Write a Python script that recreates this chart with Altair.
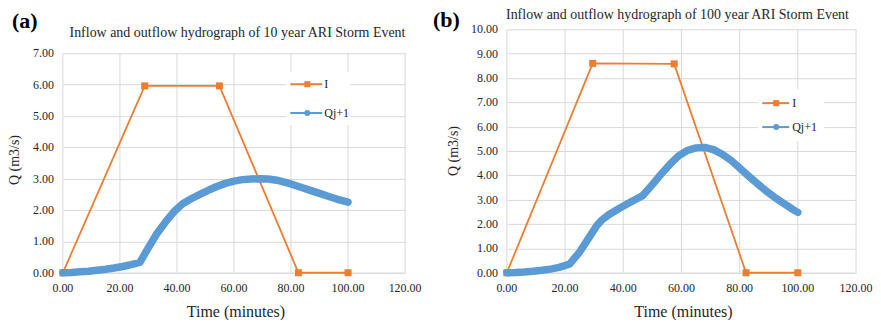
import altair as alt
import pandas as pd

# ---------------- data ----------------
x_ticks = [0, 20, 40, 60, 80, 100, 120]
x_tick_labels = ["0.00", "20.00", "40.00", "60.00", "80.00", "100.00", "120.00"]
y_ticks_a = [0, 1, 2, 3, 4, 5, 6, 7]
y_tick_labels_a = ["0.00", "1.00", "2.00", "3.00", "4.00", "5.00", "6.00", "7.00"]
y_ticks_b = [0, 1, 2, 3, 4, 5, 6, 7, 8, 9, 10]
y_tick_labels_b = ["0.00", "1.00", "2.00", "3.00", "4.00", "5.00", "6.00", "7.00", "8.00",
                   "9.00", "10.00"]

# (a) 10 year ARI
time_in_a = [0, 28.7, 54.9, 82.6, 100]
q_in_a = [0, 5.96, 5.96, 0, 0]
time_out_a = [0, 3, 6, 9, 12, 15, 18, 21, 24, 27, 30, 33, 36, 39, 42, 45, 48, 51, 54, 57,
              60, 63, 66, 69, 72, 75, 78, 81, 84, 87, 90, 93, 96, 100]
q_out_a = [0, 0.01, 0.03, 0.05, 0.08, 0.11, 0.15, 0.20, 0.26, 0.33, 0.80, 1.25, 1.62, 1.95, 2.20,
           2.36, 2.50, 2.63, 2.75, 2.85, 2.92, 2.97, 2.99, 3.00, 2.99, 2.95, 2.88, 2.80, 2.71,
           2.62, 2.53, 2.44, 2.35, 2.25]

# (b) 100 year ARI
time_in_b = [0, 29.5, 57.5, 82.2, 100]
q_in_b = [0, 8.60, 8.58, 0, 0]
time_out_b = [0, 3, 6, 9, 12, 15, 18, 21.6, 25, 28, 31, 32.5, 35, 38, 41, 44, 46.7, 50, 53, 56,
              59, 62, 65, 68, 71, 74, 77, 80, 83, 86, 89, 92, 95, 98, 100]
q_out_b = [0, 0.01, 0.03, 0.06, 0.10, 0.15, 0.22, 0.36, 0.85, 1.40, 1.95, 2.15, 2.38, 2.60, 2.80,
           3.00, 3.17, 3.62, 4.05, 4.45, 4.80, 5.02, 5.13, 5.15, 5.06, 4.87, 4.62, 4.30, 3.98,
           3.67, 3.37, 3.10, 2.86, 2.62, 2.48]

series_names = ["I", "Qj+1"]

FONT = "Liberation Serif"
ORANGE = "#ED7D31"
BLUE = "#5B9BD5"
GRID = "#d9d9d9"
TXT = "#262626"


def panel(t_in, q_in, t_out, q_out, ymax, yt, ytl, w, h, top, title, title_xy, tag, tag_xy,
          ytitle_xy, leg):
    df_in = pd.DataFrame({"t": t_in, "q": q_in})
    df_out = pd.DataFrame({"t": t_out, "q": q_out})
    df_grid = pd.DataFrame({"t": x_ticks, "q0": [0] * len(x_ticks),
                            "q1": [ymax] * len(x_ticks)})
    df_xl = pd.DataFrame({"t": x_ticks, "lab": x_tick_labels})
    df_yl = pd.DataFrame({"q": yt, "lab": ytl})
    one = pd.DataFrame({"k": [0]})
    xs = alt.Scale(domain=[0, 120], nice=False, zero=False)
    ys = alt.Scale(domain=[0, ymax], nice=False, range=[h, top])
    xaxis = alt.Axis(values=x_ticks, title=None, grid=False, labels=False, ticks=False,
                     domain=True, domainColor=GRID)
    yaxis = alt.Axis(values=yt, title=None, labels=False, ticks=False, domain=False,
                     grid=True, gridColor=GRID, gridWidth=1)
    x = alt.X("t:Q", scale=xs, axis=xaxis)
    y = alt.Y("q:Q", scale=ys, axis=yaxis)
    vgrid = alt.Chart(df_grid).mark_rule(color=GRID, strokeWidth=1).encode(
        x=x, y=alt.Y("q0:Q", scale=ys, axis=yaxis), y2="q1:Q")
    xlabels = alt.Chart(df_xl).mark_text(font=FONT, fontSize=12, color=TXT, align="center",
                                         baseline="middle").encode(
        x=x, y=alt.value(h + 15), text="lab:N")
    ylabels = alt.Chart(df_yl).mark_text(font=FONT, fontSize=12, color=TXT, align="right",
                                         baseline="middle").encode(
        y=y, x=alt.value(-9), text="lab:N")
    in_line = alt.Chart(df_in).mark_line(color=ORANGE, strokeWidth=1.8).encode(x=x, y=y)
    in_pts = alt.Chart(df_in).mark_point(shape="square", filled=True, size=49,
                                         color=ORANGE, opacity=1).encode(x=x, y=y)
    out_line = alt.Chart(df_out).mark_line(
        color=BLUE, strokeWidth=7.5, strokeCap="round", strokeJoin="round").encode(x=x, y=y)
    # legend
    lx0, lx1, ly0, ly1, sx0, sx1, mx, tx, lys = leg
    bg = alt.Chart(one).mark_rect(color="white").encode(
        x=alt.value(lx0), x2=alt.value(lx1), y=alt.value(ly0), y2=alt.value(ly1))
    layers = [vgrid, xlabels, ylabels, in_line, in_pts, out_line, bg]
    colors = [ORANGE, BLUE]
    shapes = ["square", "circle"]
    for name, col, shp, yy in zip(series_names, colors, shapes, lys):
        layers.append(alt.Chart(one).mark_rule(color=col, strokeWidth=2).encode(
            x=alt.value(sx0), x2=alt.value(sx1), y=alt.value(yy)))
        layers.append(alt.Chart(one).mark_point(shape=shp, filled=True, size=36, color=col,
                                               opacity=1).encode(x=alt.value(mx), y=alt.value(yy)))
        layers.append(alt.Chart(one).mark_text(text=name, font=FONT, fontSize=12, color=TXT,
                                              align="left", baseline="middle").encode(
            x=alt.value(tx), y=alt.value(yy)))
    layers.append(alt.Chart(one).mark_text(text=tag, font=FONT, fontSize=22, fontWeight="bold",
                                          color="black", align="left",
                                          baseline="alphabetic").encode(
        x=alt.value(tag_xy[0]), y=alt.value(tag_xy[1])))
    layers.append(alt.Chart(one).mark_text(text=title, font=FONT, fontSize=14, color=TXT,
                                          align="center", baseline="alphabetic").encode(
        x=alt.value(title_xy[0]), y=alt.value(title_xy[1])))
    layers.append(alt.Chart(one).mark_text(text="Q (m3/s)", font=FONT, fontSize=14, color=TXT,
                                          align="center", baseline="middle", angle=270).encode(
        x=alt.value(ytitle_xy[0]), y=alt.value(ytitle_xy[1])))
    layers.append(alt.Chart(one).mark_text(text="Time (minutes)", font=FONT, fontSize=16,
                                          color=TXT, align="center", baseline="middle").encode(
        x=alt.value(w / 2 + 2), y=alt.value(h + 39)))
    return alt.layer(*layers).properties(width=w, height=h)


# panel (a): plot 343 x 220, drawn in a 244-high view whose top 24 px stay empty
pa = panel(time_in_a, q_in_a, time_out_a, q_out_a, 7, y_ticks_a, y_tick_labels_a,
           343, 244, 24,
           "Inflow and outflow hydrograph of 10 year ARI Storm Event", (175, 8),
           "(a)", (-51, -1), (-48, 131),
           (224, 288, 43, 96, 228, 260, 245, 262, [55, 84]))
pb = panel(time_in_b, q_in_b, time_out_b, q_out_b, 10, y_ticks_b, y_tick_labels_b,
           350, 244, 0,
           "Inflow and outflow hydrograph of 100 year ARI Storm Event", (171, -10),
           "(b)", (-74, -2), (-53, 122),
           (252, 318, 60, 112, 256, 283, 270, 286, [74, 98]))

chart = alt.hconcat(pa, pb, spacing=102, bounds="flush").properties(
    padding=0, background="white"
).configure(font=FONT).configure_view(stroke=None)

chart.save("out.html", embed_options={"renderer": "svg", "actions": False})
